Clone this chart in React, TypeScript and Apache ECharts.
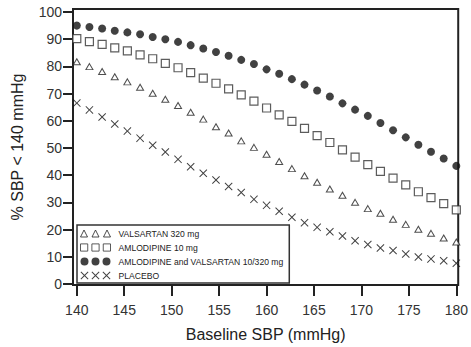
import React, { useEffect, useRef } from "react";
import * as echarts from "echarts";

const baselineSBP = [140, 141.33, 142.67, 144, 145.33, 146.67, 148, 149.33, 150.67, 152, 153.33, 154.67, 156, 157.33, 158.67, 160, 161.33, 162.67, 164, 165.33, 166.67, 168, 169.33, 170.67, 172, 173.33, 174.67, 176, 177.33, 178.67, 180];
const valsartan = [81.7, 79.9, 78.1, 76.2, 74.3, 72.3, 70.1, 67.9, 65.6, 63.1, 60.6, 57.8, 55.5, 52.6, 50.2, 47.7, 45.0, 42.4, 39.8, 37.4, 34.9, 32.6, 30.0, 27.7, 26.0, 23.8, 21.9, 20.1, 18.6, 16.9, 15.4];
const amlodipine = [90.2, 89.1, 88.1, 86.8, 85.7, 84.2, 82.8, 81.1, 79.5, 77.7, 75.7, 73.8, 71.7, 69.5, 67.2, 64.7, 62.2, 59.8, 57.2, 54.5, 52.0, 49.3, 46.6, 43.9, 41.4, 38.9, 36.4, 33.9, 31.7, 29.5, 27.2];
const combination = [95.0, 94.5, 93.9, 93.1, 92.5, 91.8, 90.8, 90.0, 89.0, 87.8, 86.6, 85.3, 83.9, 82.4, 80.9, 78.9, 77.3, 75.3, 73.3, 71.1, 68.9, 66.4, 64.1, 61.8, 59.2, 56.5, 53.9, 51.2, 48.6, 46.1, 43.4];
const placebo = [66.5, 64.0, 61.4, 58.8, 56.2, 53.6, 51.0, 48.5, 45.8, 43.1, 40.7, 38.2, 35.8, 33.6, 31.1, 28.9, 26.7, 24.5, 22.5, 20.8, 19.2, 17.6, 15.9, 14.5, 13.2, 12.3, 11.0, 9.9, 9.2, 8.5, 7.6];

const xTicks = [140, 145, 150, 155, 160, 165, 170, 175, 180];
const yTicks = [0, 10, 20, 30, 40, 50, 60, 70, 80, 90, 100];

const seriesNames = ["VALSARTAN 320 mg", "AMLODIPINE 10 mg", "AMLODIPINE and VALSARTAN 10/320 mg", "PLACEBO"];

function crossAt(o: number) {
  const p = [[0, 0.7], [0.7, 0], [4, 3.3], [7.3, 0], [8, 0.7], [4.7, 4], [8, 7.3], [7.3, 8], [4, 4.7], [0.7, 8], [0, 7.3], [3.3, 4]];
  return "M" + p.map(([x, y]) => `${x + o},${y}`).join(" L") + " Z";
}

const crossPath = "path://" + crossAt(0);

const legendIcons = [
  "path://M0,8 L3.5,1 L7,8 Z M11.5,8 L15,1 L18.5,8 Z M23,8 L26.5,1 L30,8 Z",
  "path://M0.5,0.5 H7.5 V7.5 H0.5 Z M11.5,0.5 H18.5 V7.5 H11.5 Z M22.5,0.5 H29.5 V7.5 H22.5 Z",
  "path://M0,4 A4,4 0 1,0 8,4 A4,4 0 1,0 0,4 Z M11,4 A4,4 0 1,0 19,4 A4,4 0 1,0 11,4 Z M22,4 A4,4 0 1,0 30,4 A4,4 0 1,0 22,4 Z",
  "path://" + crossAt(0) + " " + crossAt(11) + " " + crossAt(22),
];

const legendStyles = [
  { color: "#fff", borderColor: "#222", borderWidth: 1 },
  { color: "#fff", borderColor: "#333", borderWidth: 1 },
  { color: "#111", borderWidth: 0 },
  { color: "#111", borderWidth: 0 },
];

function pairs(ys: number[]) {
  return baselineSBP.map((x, i) => [x, ys[i]]);
}

export default function App() {
  const ref = useRef<HTMLDivElement>(null);
  useEffect(() => {
    if (!ref.current) return;
    const chart = echarts.init(ref.current, null, { renderer: "svg" });
    const font = "Liberation Sans, Arial, sans-serif";
    chart.setOption({
      animation: false,
      grid: {
        left: 73,
        right: 9,
        top: 9,
        bottom: 62,
        show: true,
        borderColor: "#222",
        borderWidth: 2,
        backgroundColor: "transparent",
      },
      legend: {
        orient: "vertical",
        left: 77,
        top: 225,
        padding: [4, 6, 3, 3],
        itemGap: 5,
        itemWidth: 30,
        itemHeight: 8,
        borderColor: "#333",
        borderWidth: 1.5,
        backgroundColor: "#fff",
        borderRadius: 0,
        textStyle: {
          fontFamily: "Liberation Sans, Arial, sans-serif",
          fontSize: 8.6,
          color: "#222",
          padding: [0, 0, 0, 3],
        },
        data: seriesNames.map((n, i) => ({ name: n, icon: legendIcons[i], itemStyle: legendStyles[i] })),
      },
      xAxis: {
        type: "value",
        min: 139.6,
        max: 180.2,
        name: "Baseline SBP (mmHg)",
        nameLocation: "middle",
        nameGap: 41,
        nameTextStyle: { fontFamily: font, fontSize: 16, color: "#222" },
        axisLine: { show: false },
        splitLine: { show: false },
        axisTick: { show: true, length: 12, customValues: xTicks, lineStyle: { color: "#222", width: 2 } },
        axisLabel: { customValues: xTicks, margin: 18, fontFamily: font, fontSize: 14, color: "#333" },
      },
      yAxis: {
        type: "value",
        min: -0.4,
        max: 101.1,
        name: "% SBP < 140 mmHg",
        nameLocation: "middle",
        nameGap: 48,
        nameTextStyle: { fontFamily: font, fontSize: 16, color: "#222" },
        axisLine: { show: false },
        splitLine: { show: false },
        axisTick: { show: true, length: 10, customValues: yTicks, lineStyle: { color: "#222", width: 2 } },
        axisLabel: { customValues: yTicks, margin: 11, fontFamily: font, fontSize: 14, color: "#333" },
      },
      series: [
        {
          name: seriesNames[0],
          type: "scatter",
          symbol: "triangle",
          symbolSize: [7, 6],
          itemStyle: { color: "#fff", borderColor: "#222", borderWidth: 1 },
          data: pairs(valsartan),
        },
        {
          name: seriesNames[1],
          type: "scatter",
          symbol: "rect",
          symbolSize: 8,
          itemStyle: { color: "#fff", borderColor: "#333", borderWidth: 1.2 },
          data: pairs(amlodipine),
        },
        {
          name: seriesNames[2],
          type: "scatter",
          symbol: "circle",
          symbolSize: 8,
          itemStyle: { color: "#111", borderWidth: 0 },
          data: pairs(combination),
        },
        {
          name: seriesNames[3],
          type: "scatter",
          symbol: crossPath,
          symbolSize: 8,
          itemStyle: { color: "#111", borderWidth: 0 },
          data: pairs(placebo),
        },
      ],
    });
    return () => chart.dispose();
  }, []);
  return <div ref={ref} style={{ width: 471, height: 347, position: "absolute", left: 0, top: 0 }} />;
}
